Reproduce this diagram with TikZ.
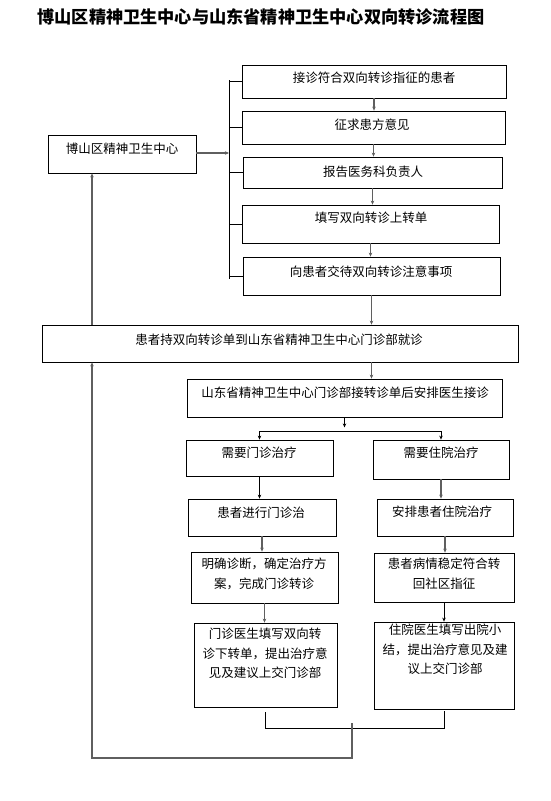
\documentclass[tikz,border=0pt]{standalone}
\usepackage{fontspec}
\setmainfont{Noto Sans CJK SC}
\usetikzlibrary{arrows.meta,fit,calc}
\begin{document}
\begin{tikzpicture}[x=1pt,y=-1pt,
  box/.style={draw=black,line width=0.8pt,inner sep=0pt},
  txt/.style={font=\fontsize{12.5}{19.5}\selectfont,align=center,inner sep=0pt},
  ttl/.style={font=\fontsize{17.2}{20}\selectfont\bfseries,inner sep=0pt},
  blk/.style={draw=black,line width=0.8pt},
  gry/.style={draw={rgb,255:red,95;green,95;blue,95},line width=1.1pt},
  arr/.style={-{Stealth[length=4pt,width=3.5pt]}}]
\fill[white] (0,0) rectangle (550,801);
\useasboundingbox (0,0) rectangle (550,801);
\node[ttl] (title) at (261,17) {博山区精神卫生中心与山东省精神卫生中心双向转诊流程图};
% boxes
\node[box,fit={(48,135) (196,173)}] (L) {};
\node[box,fit={(242,65) (506,98)}] (b1) {};
\node[box,fit={(242,111) (505,144)}] (b2) {};
\node[box,fit={(243,157) (502,188)}] (b3) {};
\node[box,fit={(242,205) (499,243)}] (b4) {};
\node[box,fit={(243,257) (500,295)}] (b5) {};
\node[box,fit={(42,325) (518,362)}] (big) {};
\node[box,fit={(187,379) (502,417)}] (s) {};
\node[box,fit={(186,440) (333,476)}] (o1) {};
\node[box,fit={(373,440) (509,479)}] (h1) {};
\node[box,fit={(188,499) (336,536)}] (o2) {};
\node[box,fit={(377,499) (513,536)}] (h2) {};
\node[box,fit={(191,552) (338,603)}] (o3) {};
\node[box,fit={(374,553) (514,602)}] (h3) {};
\node[box,fit={(194,623) (337,707)}] (o4) {};
\node[box,fit={(374,622) (514,709)}] (h4) {};
% texts
\node[txt] (Lt) at (122,149) {博山区精神卫生中心};
\node[txt] (b1t) at (374,78) {接诊符合双向转诊指征的患者};
\node[txt] (b2t) at (372,125) {征求患方意见};
\node[txt] (b3t) at (373,172) {报告医务科负责人};
\node[txt] (b4t) at (371,218) {填写双向转诊上转单};
\node[txt] (b5t) at (371,272) {向患者交待双向转诊注意事项};
\node[txt] (bigt) at (279,340) {患者持双向转诊单到山东省精神卫生中心门诊部就诊};
\node[txt] (st) at (345,393) {山东省精神卫生中心门诊部接转诊单后安排医生接诊};
\node[txt] (o1t) at (259,453) {需要门诊治疗};
\node[txt] (h1t) at (441,453) {需要住院治疗};
\node[txt] (o2t) at (261,513) {患者进行门诊治};
\node[txt] (h2t) at (442,512) {安排患者住院治疗};
\node[txt,anchor=north] (o3t) at (264,558) {明确诊断，确定治疗方\\案，完成门诊转诊};
\node[txt,anchor=north] (h3t) at (444,558) {患者病情稳定符合转\\回社区指征};
\node[txt,anchor=north] (o4t) at (265,628) {门诊医生填写双向转\\诊下转单，提出治疗意\\见及建议上交门诊部};
\node[txt,anchor=north] (h4t) at (445,624) {住院医生填写出院小\\结，提出治疗意见及建\\议上交门诊部};
% bracket
\coordinate (bx) at (229,0);
\coordinate (btop) at (229,80);
\coordinate (bbot) at (229,279);
\draw[blk] (btop) -- (bbot);
\draw[blk] (bx |- b1.west) -- (b1.west);
\draw[blk] (bx |- b2.west) -- (b2.west);
\draw[blk] (bx |- b3.west) -- (b3.west);
\draw[blk] (bx |- b4.west) -- (b4.west);
\draw[blk] (bx |- b5.west) -- (b5.west);
\draw[gry,arr] ($(L.east)+(0,-1)$) -- ($(bx |- L.east)+(0,-1)$);
% chain of upper boxes
\draw[gry,arr] (b1.south) -- (b1.south |- b2.north);
\draw[gry,arr] (b2.south) -- (b2.south |- b3.north);
\draw[gry,arr] (b3.south) -- (b3.south |- b4.north);
\draw[gry,arr] (b4.south) -- (b4.south |- b5.north);
\draw[gry,arr] (b5.south) -- (b5.south |- big.north);
% left up arrow
\coordinate (lx) at (92,0);
\draw[gry,arr] (lx |- big.north) -- (lx |- L.south);
% big -> s
\draw[gry,arr] (b5.south |- big.south) -- (b5.south |- s.north);
% split
\coordinate (sp) at ($(s.south)+(0,14)$);
\draw[blk,arr] (s.south) -- ($(sp)+(0,-4)$);
\draw[blk] (o1.north |- sp) -- (h1.north |- sp);
\draw[blk,arr] (o1.north |- sp) -- (o1.north);
\draw[blk,arr] (h1.north |- sp) -- (h1.north);
% columns
\draw[blk,arr] (o1.south) -- (o1.south |- o2.north);
\draw[gry,arr] (o2.south) -- (o2.south |- o3.north);
\draw[gry,arr] (o3.south) -- (o3.south |- o4.north);
\draw[gry,arr] (h1.south) -- (h1.south |- h2.north);
\draw[gry,arr] (h2.south) -- (h2.south |- h3.north);
\draw[blk,arr] (h3.south) -- (h3.south |- h4.north);
% bottom return
\coordinate (jy) at (0,728);
\draw[blk] ($(o4.south)+(0,5)$) -- (o4.south |- jy) -- (h4.south |- jy) -- ($(h4.south)+(0,2)$);
\coordinate (mj) at (352,723);
\coordinate (by) at (0,758);
\draw[gry,arr] (mj) -- (mj |- by) -- (lx |- by) -- (lx |- big.south);
\end{tikzpicture}
\end{document}
